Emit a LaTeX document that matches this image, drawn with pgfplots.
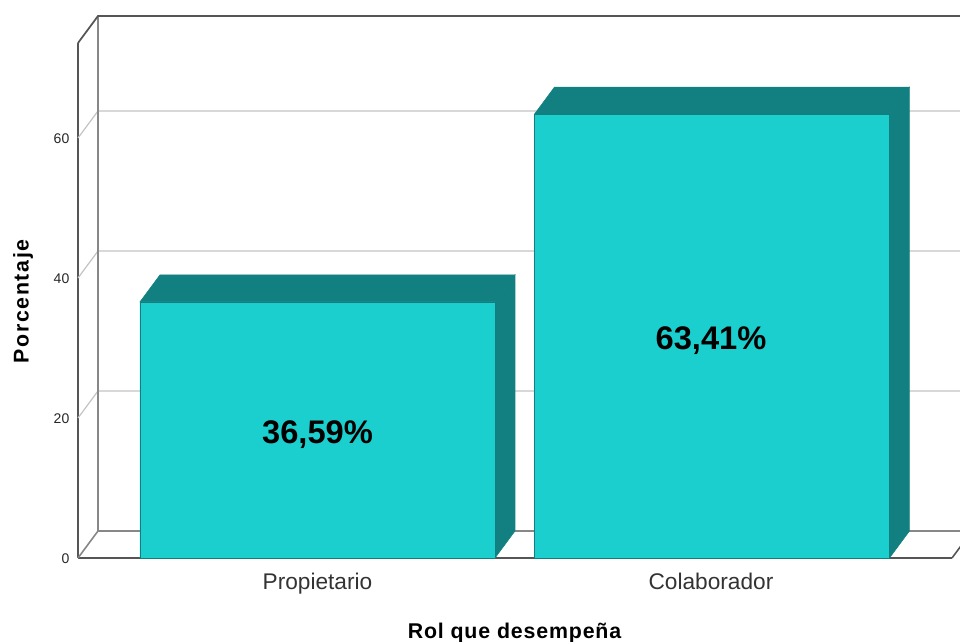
\documentclass[border=0pt]{standalone}
\usepackage{fontspec}
\setmainfont{Liberation Sans}
\usepackage{pgfplots}
\pgfplotsset{compat=1.18}
\definecolor{barfront}{RGB}{28,207,207}
\definecolor{bardark}{RGB}{18,128,128}
\definecolor{barline}{RGB}{20,125,125}
\definecolor{frontline}{RGB}{85,85,85}
\definecolor{backline}{RGB}{135,135,135}
\definecolor{gridline}{RGB}{195,195,195}
\begin{document}
\begin{tikzpicture}
\path[use as bounding box, clip] (-58.5pt,-63pt) rectangle (661.5pt,418.5pt);
\begin{axis}[
    at={(0pt,0pt)}, anchor=south west,
    scale only axis, width=655.5pt, height=386.25pt,
    xmin=-0.60864, xmax=1.6125, ymin=0, ymax=73.571,
    axis x line*=bottom, axis y line*=left,
    axis line style={-, draw=frontline, line width=1.3pt},
    clip=false,
    xtick={0,1}, xticklabels={Propietario,Colaborador},
    ytick={0,20,40,60},
    major tick length=0pt,
    /pgf/number format/assume math mode=true,
    xticklabel style={font=\fontsize{17}{20}\selectfont, text=black!80, yshift=-7.5pt},
    yticklabel style={font=\fontsize{10.5}{12}\selectfont, text=black!85, xshift=-3pt, yshift=-0.6pt},
    xlabel={\addfontfeatures{LetterSpace=4}\textbf{Rol que desempeña}},
    ylabel={\addfontfeatures{LetterSpace=7.5}\textbf{Porcentaje}},
    xlabel style={font=\fontsize{16}{18}\selectfont, at={(axis description cs:0.5,-0.1455)}, anchor=center},
    ylabel style={font=\fontsize{16}{18}\selectfont, at={(axis description cs:-0.0629,0.5)}, anchor=center, rotate=0},
]
% paredes del fondo
\addplot[gridline, line width=0.9pt] coordinates {(-0.60864,60) (-0.55781,63.857) (1.70,63.857)};
\addplot[gridline, line width=0.9pt] coordinates {(-0.60864,40) (-0.55781,43.857) (1.70,43.857)};
\addplot[gridline, line width=0.9pt] coordinates {(-0.60864,20) (-0.55781,23.857) (1.70,23.857)};
\addplot[backline, line width=1.2pt] coordinates {(-0.60864,0) (-0.55781,3.857) (1.70,3.857)};
\addplot[backline, line width=1.3pt] coordinates {(-0.55781,3.857) (-0.55781,77.428)};
\addplot[frontline, line width=1.3pt] coordinates {(-0.60864,73.571) (-0.55781,77.428) (1.70,77.428)};
\addplot[frontline, line width=1.2pt] coordinates {(1.6125,0) (1.6633,3.857)};
% caras superior y lateral
\addplot[fill=bardark, draw=bardark, line width=0.4pt] coordinates {(-0.4511,36.59) (-0.4003,40.447) (0.5019,40.447) (0.4511,36.59)} --cycle;
\addplot[fill=bardark, draw=bardark, line width=0.4pt] coordinates {(0.4511,0) (0.5019,3.857) (0.5019,40.447) (0.4511,36.59)} --cycle;
\addplot[fill=bardark, draw=bardark, line width=0.4pt] coordinates {(0.5514,63.41) (0.6022,67.267) (1.5044,67.267) (1.4536,63.41)} --cycle;
\addplot[fill=bardark, draw=bardark, line width=0.4pt] coordinates {(1.4536,0) (1.5044,3.857) (1.5044,67.267) (1.4536,63.41)} --cycle;
% barras
\addplot[ybar, bar width=266.25pt, bar shift=0pt, fill=barfront, draw=barline, line width=0.4pt] coordinates {(0,36.59) (1.0025,63.41)};
% etiquetas
\addplot[draw=none, mark=none, nodes near coords, point meta=explicit symbolic,
    every node near coord/.style={anchor=center, text=black, font=\fontsize{24.5}{28}\selectfont\bfseries}]
    coordinates {(0,17.6) [36,59\%] (1,31) [63,41\%]};
\end{axis}
\end{tikzpicture}
\end{document}
